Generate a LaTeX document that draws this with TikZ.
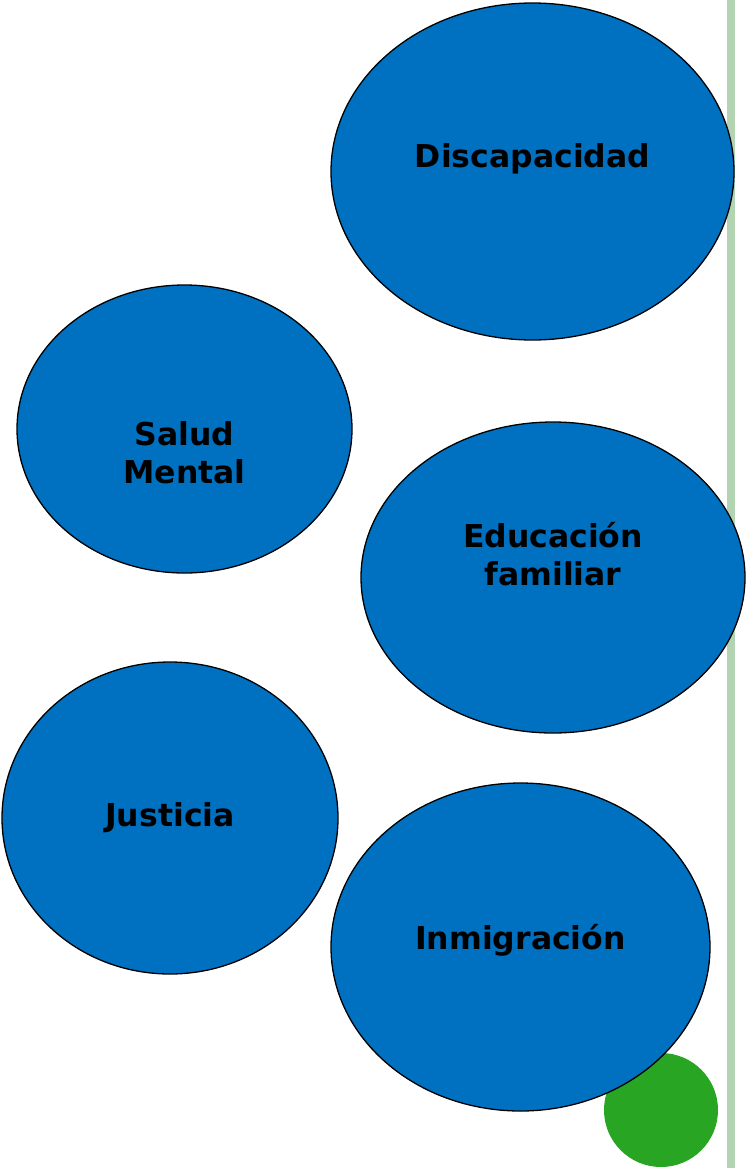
\documentclass[tikz,border=0pt]{standalone}
\usepackage{fontspec}
\setmainfont{DejaVu Sans}
\usetikzlibrary{shapes.geometric}
\definecolor{bub}{HTML}{0070C0}
\definecolor{gdot}{HTML}{28A623}
\definecolor{gline}{HTML}{B3D4B3}
\tikzset{
  bubble/.style={ellipse, draw=black, line width=1.3pt, fill=bub, inner sep=0pt},
  lbl/.style={font=\fontsize{31.5}{38}\selectfont\bfseries, align=center, anchor=base, inner sep=0pt}
}
\begin{document}
\begin{tikzpicture}[x=1pt,y=-1pt]
\useasboundingbox (0,0) rectangle (746,1168);
\fill[gline] (727,0) rectangle (735,1168);
\node[circle, fill=gdot, minimum size=114pt, inner sep=0pt] (dot) at (661,1110) {};
\node[bubble, minimum width=403pt, minimum height=337pt] (disc) at (532.5,171.5) {};
\node[bubble, minimum width=335pt, minimum height=288pt] (salud) at (184.5,429) {};
\node[bubble, minimum width=384pt, minimum height=311pt] (edu) at (553,577.5) {};
\node[bubble, minimum width=336pt, minimum height=312pt] (just) at (170,818) {};
\node[bubble, minimum width=379pt, minimum height=328pt] (inm) at (520.5,947) {};
\node[lbl] (tdisc) at (532.5,167) {Discapacidad};
\node[lbl] (tsalud) at (184.5,483) {Salud\\Mental};
\node[lbl] (tedu) at (553,585) {Educación\\familiar};
\node[lbl] (tjust) at (170,826) {Justicia};
\node[lbl] (tinm) at (520.5,949) {Inmigración};
\end{tikzpicture}
\end{document}
